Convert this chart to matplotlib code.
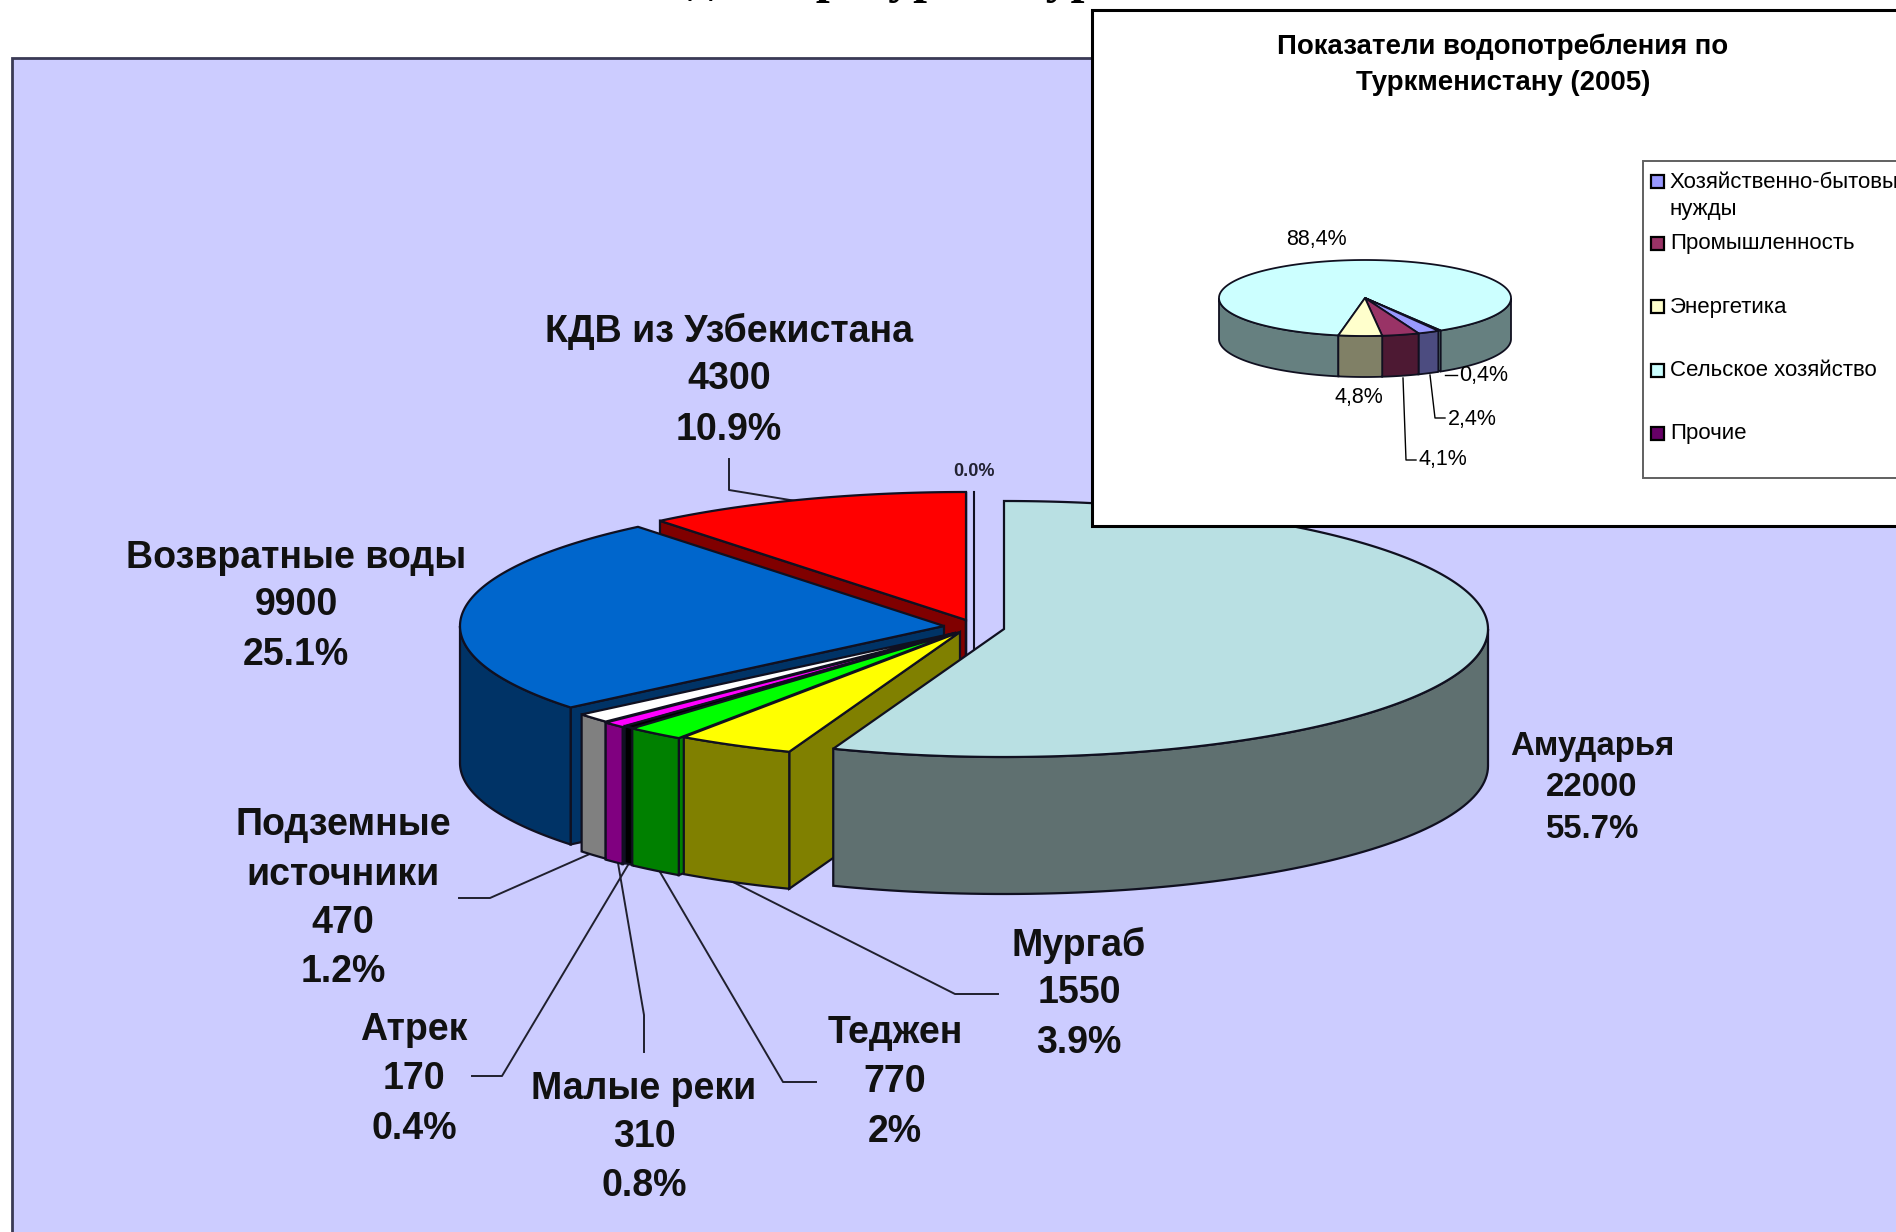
import numpy as np
import matplotlib
matplotlib.use("Agg")
import matplotlib.pyplot as plt
from matplotlib.patches import Polygon, Rectangle

plt.rcParams['font.family'] = ['Liberation Sans', 'DejaVu Sans']

# main pie, clockwise from 12 o'clock
sources = ["Амударья", "Мургаб", "Теджен", "Атрек", "Малые реки", "Подземные\nисточники", "Возвратные воды", "КДВ из Узбекистана", ""]
volumes = [22000, 1550, 770, 170, 310, 470, 9900, 4300, 0]
shares = ["55.7%", "3.9%", "2%", "0.4%", "0.8%", "1.2%", "25.1%", "10.9%", "0.0%"]

# small pie
use_labels = ["Хозяйственно-бытовые\nнужды", "Промышленность", "Энергетика", "Сельское хозяйство", "Прочие"]
use_shares = [2.4, 4.1, 4.8, 88.4, 0.4]
use_text = ["2,4%", "4,1%", "4,8%", "88,4%", "0,4%"]

# styles
main_top = ["#B9E0E3", "#FFFF00", "#00FF00", "#000000", "#FF00FF", "#FFFFFF", "#0066CC", "#FF0000", "#CCCCFF"]
main_side = ["#5F7070", "#808000", "#008000", "#000000", "#800080", "#808080", "#003366", "#800000", "#CCCCFF"]
main_centre = [(1004, 629), (960, 632), (955, 633), (957, 633), (955, 634), (955, 633), (944, 626), (966, 620), (974, 620)]
use_top = ["#9999FF", "#993366", "#FFFFCC", "#CCFFFF", "#660066"]
use_side = ["#4C4C80", "#4D1933", "#808066", "#668080", "#330033"]

fig = plt.figure(figsize=(18.96, 12.32), dpi=100)
ax = fig.add_axes([0, 0, 1, 1])
ax.set_xlim(0, 1896)
ax.set_ylim(1232, 0)
ax.axis("off")


def pt(c, rx, ry, a, dz=0):
    return (c[0] + rx * np.cos(np.radians(a)), c[1] - ry * np.sin(np.radians(a)) + dz)


def slice3d(c, rx, ry, depth, a1, a2, top, side, lw, z):
    # a1 < a2, counterclockwise degrees
    apex = pt(c, 0, 0, 0)
    if np.cos(np.radians(a2)) < 0:
        rim = pt(c, rx, ry, a2)
        face = [apex, rim, (rim[0], rim[1] + depth), (apex[0], apex[1] + depth)]
        ax.add_patch(Polygon(face, fc=side, ec="#101020", lw=lw, zorder=z))
    if np.cos(np.radians(a1)) > 0:
        rim = pt(c, rx, ry, a1)
        face = [apex, rim, (rim[0], rim[1] + depth), (apex[0], apex[1] + depth)]
        ax.add_patch(Polygon(face, fc=side, ec="#101020", lw=lw, zorder=z))
    # outer wall, only the part facing front
    for k in (-1, 0, 1):
        lo = max(a1, 180 + 360 * k)
        hi = min(a2, 360 + 360 * k)
        if hi > lo:
            aa = np.linspace(lo, hi, 80)
            upper = [pt(c, rx, ry, a) for a in aa]
            lower = [pt(c, rx, ry, a, depth) for a in aa[::-1]]
            ax.add_patch(Polygon(upper + lower, fc=side, ec="#101020", lw=lw, zorder=z))
    aa = np.linspace(a1, a2, max(2, int((a2 - a1) * 2)))
    ax.add_patch(Polygon([apex] + [pt(c, rx, ry, a) for a in aa], fc=top, ec="#101020", lw=lw, zorder=z))


# background panel
ax.add_patch(Rectangle((12, 58), 1900, 1200, fc="#CCCCFF", ec="#3A3A55", lw=2, zorder=0))

# cut off title at the very top of the page, only the descenders show
ax.text(1000, -8, "Водные ресурсы Туркменистана", fontsize=36, fontweight="bold", family="Liberation Serif",
        ha="center", va="baseline", color="black", zorder=1)

# main pie: draw back to front
total = sum(volumes)
angle = 90.0
spans = []
for v in volumes:
    spans.append((angle - 360.0 * v / total, angle))
    angle -= 360.0 * v / total
spans[-1] = (90.0, 90.0)

order = [8, 7, 6, 5, 4, 3, 2, 1, 0]
for z, i in enumerate(order):
    a1, a2 = spans[i]
    if volumes[i] == 0:
        # nothing left of this slice but a line
        c = main_centre[i]
        ax.plot([c[0], c[0]], [c[1] - 128, c[1] + 137], color="#101020", lw=1.5, zorder=z + 2)
        continue
    slice3d(main_centre[i], 484, 128, 137, a1, a2, main_top[i], main_side[i], 1.6, z + 2)

# leaders main pie
leaders = [
    ([729, 729, 796], [459, 490, 501]),
    ([459, 490, 592], [898, 898, 853]),
    ([472, 502, 628], [1076, 1076, 865]),
    ([644, 644, 618], [1052, 1015, 863]),
    ([816, 783, 660], [1082, 1082, 872]),
    ([998, 955, 733], [994, 994, 882]),
]
for xs, ys in leaders:
    ax.plot(xs, ys, color="#20202E", lw=1.4, zorder=1)

label_pos = {
    0: (1592, [746, 788, 830], 23.8),
    1: (1079, [945, 993, 1043], 27),
    2: (895, [1033, 1082, 1132], 27),
    3: (414, [1030, 1079, 1129], 27),
    4: (644, [1089, 1137, 1186], 27),
    5: (343, [825, 875, 923, 972], 27),
    6: (296, [558, 605, 655], 27),
    7: (729, [331, 379, 430], 27),
}
for i, (x, ys, fs) in label_pos.items():
    lines = sources[i].split("\n") + [str(volumes[i]), shares[i]]
    for y, line in zip(ys, lines):
        ax.text(x, y, line, fontsize=fs, fontweight="bold", ha="center", va="center", color="#111111", zorder=20)
ax.text(974, 471, shares[8], fontsize=13, fontweight="bold", ha="center", va="center", color="#222233", zorder=20)

# inset
ax.add_patch(Rectangle((1092, 10), 900, 516, fc="white", ec="black", lw=2.2, zorder=30))
ax.text(1503, 47, "Показатели водопотребления по", fontsize=19.9, fontweight="bold", ha="center", va="center", zorder=31)
ax.text(1503, 83, "Туркменистану (2005)", fontsize=19.9, fontweight="bold", ha="center", va="center", zorder=31)

c = (1365, 298)
angle = -59.84
small = []
for v in use_shares:
    small.append((angle - 3.6 * v, angle))
    angle -= 3.6 * v
# farming is the big one and goes first, the small front slices cover its faces
for z, i in enumerate([3, 4, 0, 1, 2]):
    a1, a2 = small[i]
    if i == 3:
        a1, a2 = a1 + 360, a2 + 360
    slice3d(c, 146, 38, 41, a1, a2, use_top[i], use_side[i], 1.3, 32 + z)

inset_text = {3: (1316, 240), 2: (1359, 398), 4: (1484, 375), 0: (1472, 419), 1: (1443, 460)}
for i, (x, y) in inset_text.items():
    ax.text(x, y, use_text[i], fontsize=15.5, ha="center", va="center", zorder=40)
ax.plot([1445, 1457], [375, 375], color="black", lw=1, zorder=39)
ax.plot([1430, 1435, 1445], [375, 418, 418], color="black", lw=1, zorder=39)
ax.plot([1403, 1406, 1416], [378, 460, 460], color="black", lw=1, zorder=39)

# legend box runs off the page
ax.add_patch(Rectangle((1643, 161), 400, 317, fc="white", ec="#606060", lw=1.4, zorder=40))
rows = [181, 243, 306, 370, 433]
for i, y in enumerate(rows):
    ax.add_patch(Rectangle((1651, y - 6.5), 13, 13, fc=use_top[i], ec="black", lw=1.6, zorder=41))
    parts = use_labels[i].split("\n")
    ax.text(1670, y + 1, parts[0], fontsize=16, ha="left", va="center", zorder=41)
    if len(parts) > 1:
        ax.text(1670, y + 28, parts[1], fontsize=16, ha="left", va="center", zorder=41)

fig.savefig("out.png", dpi=100)
